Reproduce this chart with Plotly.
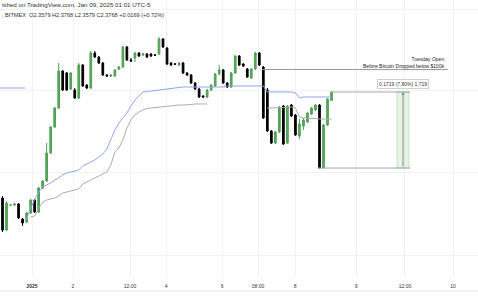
import plotly.graph_objects as go

# ---------------- data ----------------
opens = [2.0150, 2.1371, 2.0647, 2.1213, 2.1213, 2.1236, 2.0896, 2.0828, 2.1032, 2.1326,
         2.1055, 2.1597, 2.1756, 2.2389, 2.2977, 2.3407, 2.4244, 2.4199, 2.3837, 2.3814,
         2.3633, 2.4380, 2.3927, 2.3859, 2.4651, 2.4561, 2.4425, 2.4153, 2.4131, 2.4131,
         2.4289, 2.4334, 2.4787, 2.4493, 2.4538, 2.4651, 2.4606, 2.4629, 2.4629, 2.4606,
         2.4629, 2.4968, 2.4764, 2.4425, 2.4402, 2.4380, 2.4425, 2.4199, 2.4153, 2.3973,
         2.3837, 2.3678, 2.3656, 2.3814, 2.3905, 2.4176, 2.4267, 2.3973, 2.3882, 2.4199,
         2.4583, 2.4402, 2.4289, 2.4086, 2.4289, 2.4651, 2.4334, 2.3814, 2.2887, 2.2615,
         2.2864, 2.3452, 2.2615, 2.3475, 2.3249, 2.2774, 2.2999, 2.3090, 2.3271, 2.3362,
         2.3475, 2.2049, 2.3022, 2.3579]
highs = [2.1371, 2.1416, 2.1303, 2.1236, 2.1258, 2.1258, 2.0919, 2.1055, 2.1349, 2.1349,
         2.1620, 2.1778, 2.2615, 2.2999, 2.3430, 2.4425, 2.4267, 2.4221, 2.4221, 2.3859,
         2.4425, 2.4402, 2.3950, 2.4696, 2.4696, 2.4583, 2.4448, 2.4176, 2.4176, 2.4289,
         2.4357, 2.4810, 2.4810, 2.4538, 2.4674, 2.4674, 2.4651, 2.4651, 2.4651, 2.4629,
         2.5013, 2.4990, 2.4787, 2.4448, 2.4425, 2.4448, 2.4448, 2.4221, 2.4176, 2.3995,
         2.3859, 2.3701, 2.3837, 2.3950, 2.4199, 2.4380, 2.4289, 2.3995, 2.4221, 2.4606,
         2.4606, 2.4425, 2.4312, 2.4312, 2.4674, 2.4674, 2.4357, 2.3859, 2.2909, 2.2887,
         2.3452, 2.3475, 2.3475, 2.3498, 2.3271, 2.3158, 2.3181, 2.3317, 2.3430, 2.3498,
         2.3498, 2.3045, 2.3633, 2.3768]
lows = [2.0059, 2.0602, 2.0625, 2.1190, 2.1190, 2.0896, 2.0738, 2.0806, 2.1010, 2.1032,
        2.1032, 2.1575, 2.1733, 2.2367, 2.2955, 2.3384, 2.3792, 2.3792, 2.3814, 2.3611,
        2.3611, 2.3882, 2.3837, 2.3837, 2.4538, 2.4402, 2.4131, 2.4108, 2.4108, 2.4108,
        2.4267, 2.4312, 2.4470, 2.4448, 2.4448, 2.4561, 2.4583, 2.4538, 2.4561, 2.4583,
        2.4606, 2.4764, 2.4380, 2.4357, 2.4380, 2.4357, 2.4176, 2.4131, 2.3950, 2.3814,
        2.3633, 2.3633, 2.3633, 2.3792, 2.3882, 2.4153, 2.3950, 2.3859, 2.3859, 2.4176,
        2.4357, 2.4334, 2.4086, 2.4063, 2.4267, 2.4357, 2.3158, 2.2864, 2.2593, 2.2593,
        2.2841, 2.2570, 2.2593, 2.3204, 2.2774, 2.2706, 2.2909, 2.3068, 2.3249, 2.3339,
        2.2049, 2.2049, 2.2999, 2.3579]
closes = [2.1326, 2.0647, 2.1258, 2.1215, 2.1236, 2.0919, 2.0806, 2.1032, 2.1326, 2.1055,
          2.1597, 2.1756, 2.2389, 2.2977, 2.3407, 2.4244, 2.3814, 2.3814, 2.4199, 2.3633,
          2.4380, 2.3905, 2.3859, 2.4651, 2.4561, 2.4425, 2.4153, 2.4131, 2.4153, 2.4267,
          2.4334, 2.4787, 2.4493, 2.4470, 2.4651, 2.4583, 2.4629, 2.4561, 2.4583, 2.4603,
          2.4968, 2.4787, 2.4402, 2.4380, 2.4400, 2.4425, 2.4199, 2.4153, 2.3973, 2.3837,
          2.3656, 2.3656, 2.3814, 2.3927, 2.4176, 2.4267, 2.3973, 2.3882, 2.4199, 2.4583,
          2.4380, 2.4357, 2.4108, 2.4289, 2.4651, 2.4380, 2.3181, 2.2887, 2.2615, 2.2864,
          2.3430, 2.2593, 2.3452, 2.3226, 2.2796, 2.3045, 2.3136, 2.3294, 2.3407, 2.3475,
          2.2049, 2.3022, 2.3611, 2.3768]
bar_index = list(range(len(opens)))

# anchored VWAP lines
vwap_prev_x = [0, 1, 2, 3, 4, 5, 6, 6.7]
vwap_prev_y = [2.3859] * 8
vwap_x = [6.7] + list(range(7, 84))
vwap_y = [2.0850, 2.0896, 2.1145, 2.1326, 2.1507, 2.1620, 2.1665, 2.1711, 2.1778, 2.1824,
          2.1892, 2.1937, 2.1959, 2.1982, 2.2005, 2.2095, 2.2140, 2.2186, 2.2231, 2.2299,
          2.2367, 2.2480, 2.2683, 2.2909, 2.3068, 2.3181, 2.3294, 2.3452, 2.3588, 2.3678,
          2.3769, 2.3780, 2.3792, 2.3803, 2.3814, 2.3825, 2.3837, 2.3848, 2.3859, 2.3871,
          2.3882, 2.3882, 2.3882, 2.3882, 2.3882, 2.3882, 2.3882, 2.3882, 2.3882, 2.3882,
          2.3882, 2.3905, 2.3905, 2.3905, 2.3905, 2.3905, 2.3905, 2.3905, 2.3905, 2.3905,
          2.3905, 2.3769, 2.3769, 2.3769, 2.3769, 2.3769, 2.3769, 2.3769, 2.3746, 2.3633,
          2.3656, 2.3656, 2.3656, 2.3656, 2.3656, 2.3656, 2.3656, 2.3656]
band_x = list(range(8, 53))
band_y = [2.0941, 2.0964, 2.1145, 2.1281, 2.1326, 2.1349, 2.1371, 2.1416,
          2.1484, 2.1507, 2.1530, 2.1552, 2.1575, 2.1688, 2.1733, 2.1778, 2.1824, 2.1869,
          2.1914, 2.1959, 2.2118, 2.2412, 2.2502, 2.2683, 2.2955, 2.3136, 2.3249, 2.3317,
          2.3362, 2.3396, 2.3407, 2.3418, 2.3430, 2.3441, 2.3452, 2.3452, 2.3464, 2.3475,
          2.3475, 2.3475, 2.3486, 2.3498, 2.3498, 2.3498, 2.3498]
band2_x = list(range(67, 84))
band2_y = [2.3407, 2.3407, 2.3407, 2.3418, 2.3418, 2.3430, 2.3430, 2.3407, 2.3204, 2.3181,
           2.3181, 2.3170, 2.3170, 2.3158, 2.3158, 2.3158, 2.3158]

tick_pos = [8.35, 18.57, 32.78, 41.75, 55.71, 64.68, 73.9, 89.11, 101.3, 113.3]
tick_text = ["<b>2025</b>", "2", "12:00", "4", "6", "08:00", "8", "9", "12:00", "10"]
price_grid = [2.5646, 2.3792, 2.1937, 2.0082]

tuesday_open = 2.4278
range_high = 2.3768
range_low = 2.2049

FONT = "Liberation Sans, Arial, sans-serif"

fig = go.Figure()
fig.add_trace(go.Scatter(x=vwap_prev_x, y=vwap_prev_y, mode="lines",
                         line=dict(color="#8fa6ec", width=1), hoverinfo="skip"))
fig.add_trace(go.Scatter(x=vwap_x, y=vwap_y, mode="lines",
                         line=dict(color="#8fa6ec", width=1), hoverinfo="skip"))
fig.add_trace(go.Scatter(x=band_x, y=band_y, mode="lines",
                         line=dict(color="#acacac", width=1), hoverinfo="skip"))
fig.add_trace(go.Scatter(x=band2_x, y=band2_y, mode="lines",
                         line=dict(color="#acacac", width=1), hoverinfo="skip"))
fig.add_trace(go.Candlestick(
    x=bar_index, open=opens, high=highs, low=lows, close=closes,
    increasing=dict(line=dict(color="#4f9f52", width=1), fillcolor="#5aab5d"),
    decreasing=dict(line=dict(color="#000000", width=1), fillcolor="#000000"),
    whiskerwidth=0, hoverinfo="skip"))

# Tuesday open level
fig.add_shape(type="line", x0=65.7, x1=112.0, y0=tuesday_open, y1=tuesday_open,
              xref="x", yref="y", line=dict(color="#9a9a9a", width=1))
fig.add_annotation(x=111.8, y=tuesday_open, xref="x", yref="y", xanchor="right",
                   yanchor="bottom", yshift=-1, showarrow=False, align="right",
                   text="Tuesday Open<br>Before Bitcoin Dropped below $100k",
                   font=dict(family=FONT, size=5, color="#222"))

# price range measurement
fig.add_shape(type="line", x0=82.6, x1=102.6, y0=range_high, y1=range_high,
              line=dict(color="#a8a8a8", width=1))
fig.add_shape(type="line", x0=79.6, x1=102.6, y0=range_low, y1=range_low,
              line=dict(color="#a8a8a8", width=1))
fig.add_shape(type="rect", x0=99.3, x1=102.3, y0=range_low, y1=range_high,
              fillcolor="rgba(76,175,80,0.14)", line=dict(color="rgba(76,175,80,0.25)", width=1))
fig.add_annotation(x=100.8, y=range_high, ax=100.8, ay=range_low, xref="x", yref="y",
                   axref="x", ayref="y", text="", showarrow=True, arrowhead=2,
                   arrowsize=0.6, arrowwidth=1, arrowcolor="#8a8a8a")
fig.add_annotation(x=100.8, y=range_high, xref="x", yref="y", yshift=8, showarrow=False,
                   text="0.1719 (7.80%) 1,719", bgcolor="white", bordercolor="#cfcfcf",
                   borderwidth=1, borderpad=1, font=dict(family=FONT, size=5, color="#333"))

# header
fig.add_annotation(x=0, y=1 - 5 / 276, xref="paper", yref="paper", xanchor="left",
                   yanchor="middle", showarrow=False,
                   text="ished on TradingView.com, Jan 09, 2025 01:01 UTC-5",
                   font=dict(family=FONT, size=6.2, color="#333"))
fig.add_annotation(x=0, y=1 - 15 / 276, xref="paper", yref="paper", xanchor="left",
                   yanchor="middle", showarrow=False,
                   text=", BITMEX  O2.3579 H2.3768 L2.3579 C2.3768 +0.0169 (+0.72%)",
                   font=dict(family=FONT, size=5.6, color="#333"))

# bottom border line
fig.add_shape(type="line", xref="paper", yref="paper", x0=0, x1=1,
              y0=-15 / 276, y1=-15 / 276, line=dict(color="#e0e3eb", width=1))

fig.update_layout(
    width=478, height=304, margin=dict(l=0, r=0, t=0, b=28),
    paper_bgcolor="white", plot_bgcolor="white", showlegend=False,
    boxgap=0.4,
    xaxis=dict(range=[0.374, 119.5], tickvals=tick_pos, ticktext=tick_text,
               showgrid=True, gridcolor="#f0f2f5", gridwidth=1, zeroline=False,
               ticks="", showline=False, rangeslider=dict(visible=False),
               ticklabelstandoff=6,
               tickfont=dict(family=FONT, size=5, color="#333")),
    yaxis=dict(range=[1.9607, 2.585], tickvals=price_grid, showticklabels=False,
               showgrid=True, gridcolor="#f0f2f5", gridwidth=1, zeroline=False,
               showline=False),
)

fig.write_html("out.html")
